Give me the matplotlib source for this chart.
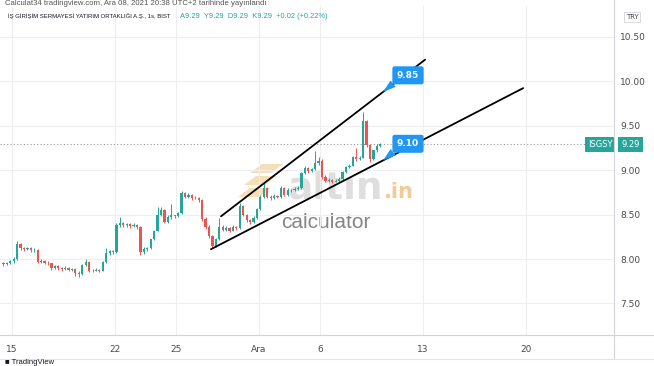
import numpy as np
import matplotlib
matplotlib.use("Agg")
import matplotlib.pyplot as plt
from matplotlib.patches import Polygon
from matplotlib.lines import Line2D
import matplotlib.transforms as mtransforms

# ISGSY hourly-ish candles (6 bars per trading day), starting with the last 3 bars of Nov 12
bars_per_day = 6
first_open = 7.96
closes = [7.94, 7.95, 7.98,
          8.00, 8.17, 8.12, 8.11, 8.12, 8.10,   # Nov 15
          8.10, 7.97, 7.98, 7.96, 7.95, 7.90,   # Nov 16
          7.92, 7.90, 7.89, 7.90, 7.88, 7.89,   # Nov 17
          7.84, 7.83, 7.93, 7.97, 7.86, 7.87,   # Nov 18
          7.88, 7.87, 7.97, 8.07, 8.09, 8.08,   # Nov 19
          8.38, 8.40, 8.38, 8.39, 8.37, 8.38,   # Nov 22
          8.36, 8.08, 8.11, 8.12, 8.22, 8.32,   # Nov 23
          8.50, 8.55, 8.42, 8.47, 8.49, 8.48,   # Nov 24
          8.52, 8.74, 8.70, 8.72, 8.68, 8.69,   # Nov 25
          8.66, 8.45, 8.36, 8.26, 8.15, 8.22,   # Nov 26
          8.36, 8.33, 8.35, 8.32, 8.36, 8.35,   # Nov 29
          8.60, 8.50, 8.44, 8.42, 8.46, 8.56,   # Nov 30
          8.70, 8.80, 8.70, 8.68, 8.71, 8.70,   # Dec 1
          8.80, 8.72, 8.78, 8.77, 8.79, 8.80,   # Dec 2
          8.97, 9.02, 8.99, 9.01, 9.08, 9.10,   # Dec 3
          8.92, 8.88, 8.89, 8.87, 8.88, 8.90,   # Dec 6
          8.98, 9.03, 9.05, 9.15, 9.12, 9.14,   # Dec 7
          9.55, 9.28, 9.12, 9.22, 9.27, 9.29]   # Dec 8
highs = [7.97, 7.97, 7.99,
         8.02, 8.20, 8.18, 8.14, 8.14, 8.13,
         8.12, 8.11, 8.00, 7.99, 7.98, 7.96,
         7.93, 7.93, 7.91, 7.92, 7.91, 7.90,
         7.90, 7.86, 7.94, 8.00, 7.98, 7.89,
         7.90, 7.89, 7.98, 8.12, 8.10, 8.10,
         8.40, 8.47, 8.42, 8.41, 8.40, 8.40,
         8.39, 8.37, 8.13, 8.14, 8.23, 8.33,
         8.58, 8.58, 8.56, 8.49, 8.62, 8.50,
         8.53, 8.76, 8.75, 8.74, 8.73, 8.71,
         8.70, 8.67, 8.47, 8.38, 8.27, 8.24,
         8.46, 8.38, 8.37, 8.36, 8.38, 8.37,
         8.63, 8.61, 8.51, 8.45, 8.48, 8.57,
         8.72, 8.85, 8.81, 8.72, 8.73, 8.72,
         8.82, 8.81, 8.80, 8.79, 8.81, 8.82,
         8.98, 9.04, 9.03, 9.02, 9.21, 9.15,
         9.12, 8.94, 8.91, 8.90, 8.90, 8.92,
         8.99, 9.05, 9.07, 9.16, 9.25, 9.16,
         9.65, 9.56, 9.29, 9.23, 9.29, 9.30]
lows = [7.92, 7.93, 7.94,
        7.96, 7.99, 8.10, 8.09, 8.10, 8.08,
        8.08, 7.95, 7.95, 7.94, 7.93, 7.88,
        7.89, 7.88, 7.87, 7.88, 7.86, 7.87,
        7.81, 7.80, 7.82, 7.92, 7.85, 7.85,
        7.86, 7.85, 7.86, 7.96, 8.05, 8.06,
        8.07, 8.36, 8.36, 8.36, 8.35, 8.36,
        8.34, 8.04, 8.06, 8.09, 8.11, 8.21,
        8.31, 8.48, 8.40, 8.41, 8.45, 8.46,
        8.47, 8.51, 8.68, 8.69, 8.66, 8.67,
        8.64, 8.43, 8.34, 8.24, 8.12, 8.14,
        8.21, 8.31, 8.32, 8.30, 8.31, 8.33,
        8.34, 8.48, 8.42, 8.39, 8.41, 8.45,
        8.55, 8.69, 8.68, 8.66, 8.67, 8.68,
        8.69, 8.71, 8.71, 8.75, 8.76, 8.78,
        8.79, 8.96, 8.97, 8.98, 9.00, 9.06,
        8.90, 8.86, 8.86, 8.85, 8.86, 8.87,
        8.89, 8.97, 9.02, 9.04, 9.10, 9.11,
        9.13, 9.26, 9.09, 9.11, 9.20, 9.26]

# trading-day index of the date labels (0 = 15 Kas)
date_days = [0, 5, 8, 12, 15, 20, 25]
date_labels = ["15", "22", "25", "Ara", "6", "13", "20"]
price_ticks = [7.5, 8.0, 8.5, 9.0, 9.5, 10.0, 10.5]

# drawn trend lines: (day, price) end points
upper_trend = [(10.17, 8.48), (20.10, 10.24)]
lower_trend = [(9.68, 8.11), (24.87, 9.92)]
# price callouts on the trend lines
callout_day = 18.05
callout_values = [9.85, 9.10]

last_price = 9.29
title = "İŞ GİRİŞİM SERMAYESİ YATIRIM ORTAKLIĞI A.Ş., 1s, BIST"
ohlc_text = "A9.29  Y9.29  D9.29  K9.29  +0.02 (+0.22%)"
published = "Calculat34 tradingview.com, Ara 08, 2021 20:38 UTC+2 tarihinde yayınlandı"

UP, DOWN, BLUE = "#26a69a", "#ef5350", "#2196f3"
W, H = 654, 366

fig = plt.figure(figsize=(W / 100, H / 100), dpi=100)
fig.patch.set_facecolor("white")
ax = fig.add_axes([0, 1 - 335 / H, 614 / W, (335 - 6) / H])
ax.set_facecolor("none")


def px(x, y):
    return x / W, 1 - y / H


closes = np.array(closes)
opens = np.concatenate([[first_open], closes[:-1]])
x = -0.5 + (np.arange(len(closes)) + 0.5) / bars_per_day
up = closes >= opens
colors = np.where(up, UP, DOWN)
body_lo = np.minimum(opens, closes)
body_h = np.maximum(np.abs(closes - opens), 0.006)

ax.vlines(x, lows, highs, colors=colors, lw=0.7, zorder=3)
ax.bar(x, body_h, bottom=body_lo, width=0.65 / bars_per_day, color=colors, lw=0, zorder=3)

# trend lines
for seg in (upper_trend, lower_trend):
    ax.plot([seg[0][0], seg[1][0]], [seg[0][1], seg[1][1]], color="black", lw=1.3,
            solid_capstyle="round", zorder=4)


def on_line(seg, d):
    (d0, p0), (d1, p1) = seg
    return p0 + (d - d0) * (p1 - p0) / (d1 - d0)


for seg, val in zip((upper_trend, lower_trend), callout_values):
    ax.annotate(f"{val:.2f}", xy=(callout_day, on_line(seg, callout_day)), xytext=(18, 12),
                textcoords="offset points", ha="center", va="center", color="white",
                fontsize=6.5, fontweight="bold", zorder=5,
                bbox=dict(boxstyle="round,pad=0.5,rounding_size=0.25", fc=BLUE, ec="none"),
                arrowprops=dict(arrowstyle="wedge,tail_width=0.9,shrink_factor=0.5", fc=BLUE,
                                ec="none", relpos=(0.12, 0.15), shrinkA=0, shrinkB=0))

# last price line and labels
ax.axhline(last_price, color="#9598a1", lw=0.8, ls=(0, (1, 2)), zorder=2)
trans = mtransforms.blended_transform_factory(ax.transAxes, ax.transData)
ax.text(1.012, last_price, f"{last_price:.2f}", transform=trans, ha="left", va="center",
        color="white", fontsize=6, clip_on=False, zorder=6,
        bbox=dict(boxstyle="square,pad=0.35", fc=UP, ec="none"))
ax.text(0.997, last_price, "ISGSY", transform=trans, ha="right", va="center",
        color="white", fontsize=6, clip_on=False, zorder=6,
        bbox=dict(boxstyle="square,pad=0.35", fc=UP, ec="none"))

# axes
ax.set_xlim(-0.584, 29.29)
ax.set_ylim(7.146, 10.843)
ax.set_xticks(date_days)
ax.set_xticklabels(date_labels)
ax.set_yticks(price_ticks)
ax.set_yticklabels([f"{p:.2f}" for p in price_ticks])
ax.yaxis.tick_right()
ax.tick_params(axis="both", length=0, labelsize=6.5, labelcolor="#4a4a4a")
ax.tick_params(axis="x", pad=7)
ax.tick_params(axis="y", pad=4.5)
ax.grid(True, color="#eeeeee", lw=0.8, zorder=0)
for s in ax.spines.values():
    s.set_visible(False)

# frame lines of the TradingView layout
fig.add_artist(Line2D([614 / W, 614 / W], [1 - 358 / H, 1], color="#d1d4dc", lw=0.8))
fig.add_artist(Line2D([0, 1], [1 - 335 / H, 1 - 335 / H], color="#d1d4dc", lw=0.8))
fig.add_artist(Line2D([0, 1], [1 - 359 / H, 1 - 359 / H], color="#e0e3eb", lw=0.8))

# watermark
wm_color = "#f0c987"
for poly in ([(250, 173), (262, 164), (283, 164), (271, 173)],
             [(244, 185), (256, 176), (277, 176), (265, 185)],
             [(238, 197), (250, 188), (271, 188), (259, 197)]):
    ax.add_patch(Polygon([px(*p) for p in poly], closed=True, transform=fig.transFigure,
                         fc=wm_color, ec="none", alpha=0.6, zorder=1, clip_on=False))
ax.text(*px(287, 198), "altın", transform=fig.transFigure, fontsize=27, fontweight="bold",
        color="#d6d6d6", alpha=0.8, ha="left", va="baseline", zorder=1)
ax.text(*px(384, 198), ".in", transform=fig.transFigure, fontsize=15, fontweight="bold",
        color="#f2b264", alpha=0.7, ha="left", va="baseline", zorder=1)
ax.text(*px(281, 228), "calculator", transform=fig.transFigure, fontsize=15,
        family=["Liberation Sans", "DejaVu Sans"], color="#858585", ha="left",
        va="baseline", zorder=1)


def fit_text(t, width_px):
    # shrink a header text until it spans the width seen in the screenshot
    r = fig.canvas.get_renderer()
    w = t.get_window_extent(r).width
    t.set_fontsize(t.get_fontsize() * width_px / w)


# header texts
hdr = ["Liberation Sans", "DejaVu Sans"]
t0 = fig.text(*px(5, 0), published, fontsize=5, color="#555555", ha="left", va="top", family=hdr)
fit_text(t0, 265)
t1 = fig.text(*px(8, 16), title, fontsize=5, color="#131722", ha="left", va="center", family=hdr)
fit_text(t1, 166)
t2 = fig.text(*px(180, 16), ohlc_text, fontsize=5, color=UP, ha="left", va="center", family=hdr)
fit_text(t2, 150)
fig.text(*px(632, 17), "TRY", fontsize=5, color="#4a4a4a", ha="center", va="center",
         bbox=dict(boxstyle="square,pad=0.3", fc="white", ec="#d1d4dc", lw=0.6))
fig.text(*px(5, 362), "\u25a0 TradingView", fontsize=5.5, color="#131722", ha="left",
         va="center", family=hdr)

fig.savefig("out.png", dpi=100, facecolor="white")
